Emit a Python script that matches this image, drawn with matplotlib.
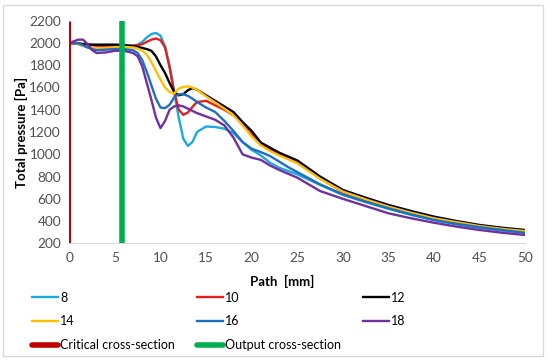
"""Total pressure along the path for several cases."""

import matplotlib
matplotlib.use("Agg")
import matplotlib.pyplot as plt
from matplotlib.lines import Line2D
from matplotlib.patches import Rectangle

plt.rcParams["font.family"] = ["Lato", "DejaVu Sans"]

# path positions [mm], shared by all series
path_mm = [0, 0.5, 1, 1.5, 2, 2.5, 3, 4, 5, 6, 7, 7.5, 8, 8.5, 9, 9.5, 10, 10.5,
           11, 11.5, 12, 12.5, 13, 13.5, 14, 15, 16, 17, 18, 19, 20, 21, 22, 23,
           24, 25, 27.5, 30, 32.5, 35, 37.5, 40, 42.5, 45, 47.5, 50]

p_8 = [2000, 1998, 1990, 1975, 1960, 1950, 1945, 1955, 1960, 1965, 1975, 1985,
       2010, 2050, 2080, 2090, 2065, 1970, 1790, 1560, 1330, 1140, 1075, 1110,
       1200, 1250, 1245, 1230, 1190, 1110, 1040, 990, 925, 880, 850, 820, 725,
       635, 570, 510, 455, 410, 370, 340, 315, 295]
p_10 = [2000, 1998, 1995, 1990, 1985, 1980, 1975, 1975, 1975, 1975, 1975, 1980,
        1990, 2010, 2030, 2040, 2025, 1960, 1780, 1560, 1400, 1355, 1375, 1425,
        1470, 1480, 1440, 1400, 1350, 1280, 1180, 1090, 1040, 1000, 960, 925,
        785, 660, 590, 525, 470, 420, 385, 350, 325, 305]
p_12 = [2000, 1998, 1995, 1990, 1987, 1985, 1985, 1985, 1985, 1982, 1972, 1965,
        1955, 1945, 1930, 1880, 1800, 1730, 1640, 1560, 1530, 1540, 1575, 1595,
        1580, 1530, 1480, 1430, 1380, 1290, 1210, 1105, 1060, 1015, 980, 945,
        800, 680, 610, 545, 490, 440, 400, 365, 340, 320]
p_14 = [2000, 1998, 1990, 1975, 1965, 1955, 1950, 1955, 1962, 1965, 1960, 1950,
        1930, 1895, 1830, 1750, 1670, 1600, 1560, 1545, 1590, 1605, 1610, 1600,
        1580, 1520, 1465, 1410, 1350, 1260, 1160, 1080, 1030, 990, 955, 920, 780,
        665, 595, 530, 475, 425, 390, 355, 330, 310]
p_16 = [2000, 1998, 1995, 1980, 1960, 1945, 1935, 1940, 1945, 1945, 1935, 1910,
        1845, 1740, 1620, 1500, 1420, 1415, 1445, 1510, 1540, 1540, 1525, 1500,
        1470, 1420, 1380, 1300, 1210, 1110, 1050, 1020, 985, 935, 885, 840, 730,
        640, 575, 515, 460, 410, 375, 345, 320, 295]
p_18 = [2000, 2015, 2030, 2030, 1990, 1935, 1910, 1915, 1930, 1930, 1910, 1880,
        1790, 1640, 1490, 1330, 1235, 1300, 1400, 1430, 1440, 1430, 1410, 1390,
        1370, 1340, 1310, 1260, 1150, 1000, 970, 950, 900, 860, 825, 790, 670,
        600, 535, 470, 425, 385, 350, 320, 295, 275]

series = {"8": p_8, "10": p_10, "12": p_12, "14": p_14, "16": p_16, "18": p_18}
colors = {"8": "#1BA9E0", "10": "#E3201C", "12": "#000000",
          "14": "#FFC000", "16": "#1F6FBF", "18": "#7030A0"}

# cross-section markers [mm]
critical_x = 0
output_x = 5.8

fig = plt.figure(figsize=(5.5, 3.6), dpi=100)
fig.add_artist(Rectangle((0.006, 0.012), 0.982, 0.974, transform=fig.transFigure,
                         fill=False, edgecolor="#D9D9D9", linewidth=1))
ax = fig.add_axes([0.126, 0.324, 0.829, 0.6185])

handles = {}
for name, vals in series.items():
    (ln,) = ax.plot(path_mm, vals, color=colors[name], linewidth=1.7,
                    solid_joinstyle="round", label=name)
    handles[name] = ln

ax.vlines(critical_x, 200, 2200, color="#C00000", linewidth=2.2, zorder=3)
ax.vlines(output_x, 200, 2200, color="#00B050", linewidth=4, zorder=3)

ax.set_xlim(0, 50)
ax.set_ylim(200, 2200)
ax.set_xticks(range(0, 51, 5))
ax.set_yticks(range(200, 2201, 200))
ax.tick_params(length=0, labelsize=9.8, colors="#505050", pad=6)
for s in ["top", "right", "left"]:
    ax.spines[s].set_visible(False)
ax.spines["bottom"].set_color("#D9D9D9")
ax.set_xlabel("Path  [mm]", fontsize=9.5, fontweight="bold")
ax.xaxis.set_label_coords(0.467, -0.14)
ax.set_ylabel("Total pressure [Pa]", fontsize=9.5, fontweight="bold", labelpad=1)

# legend in three columns, row-major like the original
crit_h = Line2D([], [], color="#C00000", linewidth=4, solid_capstyle="round")
out_h = Line2D([], [], color="#00B050", linewidth=4, solid_capstyle="round")
columns = [
    ([handles["8"], handles["14"], crit_h], ["8", "14", "Critical cross-section"], 0.058),
    ([handles["10"], handles["16"], out_h], ["10", "16", "Output cross-section"], 0.358),
    ([handles["12"], handles["18"]], ["12", "18"], 0.66),
]
for hs, labels, x0 in columns:
    fig.legend(hs, labels, loc="upper left", bbox_to_anchor=(x0, 0.19),
               frameon=False, fontsize=9, handlelength=2.1,
               handletextpad=0.15, labelspacing=0.95, borderaxespad=0,
               borderpad=0)

fig.savefig("out.png", dpi=100)
